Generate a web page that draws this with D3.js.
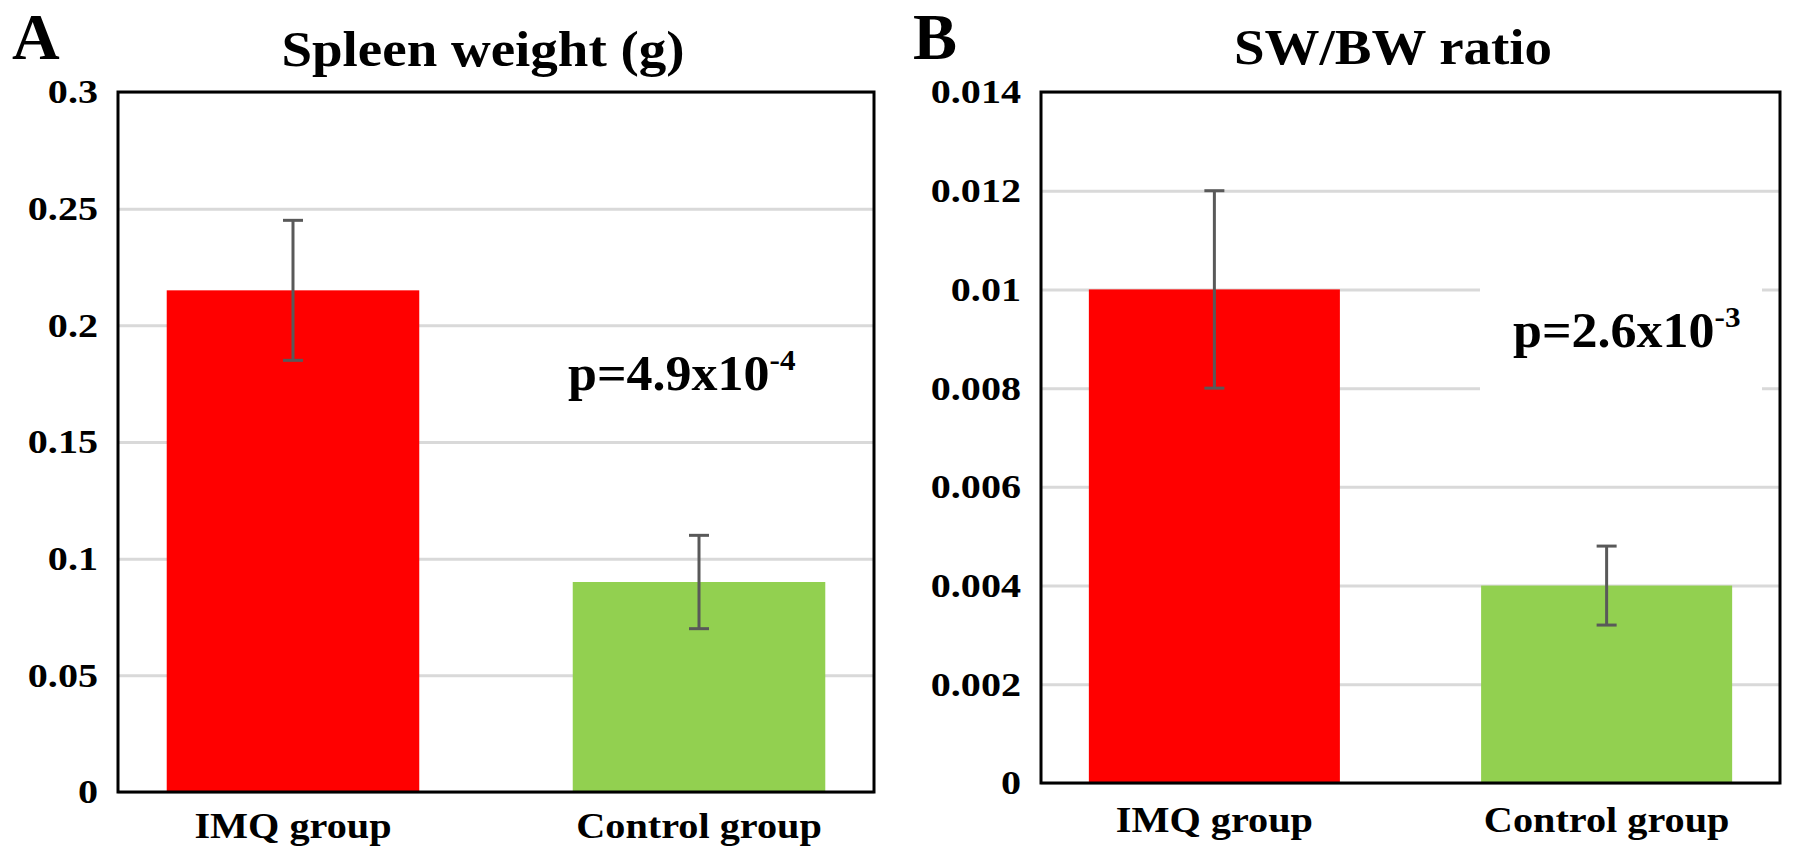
<!DOCTYPE html>
<html>
<head>
<meta charset="utf-8">
<script src="https://cdn.jsdelivr.net/npm/d3@7"></script>
<style>
  body { margin: 0; background: #fff; }
  text { font-family: "Liberation Serif", "Times New Roman", serif; font-weight: bold; fill: #000; }
</style>
</head>
<body>
<div id="chart"></div>
<script>
// data
var groups = ["IMQ group", "Control group"];
var barColors = ["#ff0000", "#92d050"];

var spleenMean = [0.215, 0.09];
var spleenErr = [0.03, 0.02];
var spleenTicks = [0, 0.05, 0.1, 0.15, 0.2, 0.25, 0.3];

var ratioMean = [0.010, 0.004];
var ratioErr = [0.002, 0.0008];
var ratioTicks = [0, 0.002, 0.004, 0.006, 0.008, 0.01, 0.012, 0.014];

var svg = d3.select("#chart")
  .append("svg")
    .attr("width", 1795)
    .attr("height", 862);

// stretched bold serif text like the picture
function label(g, x, y, txt, size, sx, anchor) {
  return g.append("text")
    .attr("transform", "translate(" + x + "," + y + ") scale(" + sx + ",1)")
    .attr("text-anchor", anchor || "middle")
    .style("font-size", size + "px")
    .text(txt);
}

function panel(opt) {
  var g = svg.append("g");
  var width = opt.right - opt.left,
      height = opt.bottom - opt.top;

  var x = d3.scaleBand()
    .domain(groups)
    .range([opt.left, opt.right])
    .paddingInner(opt.inner)
    .paddingOuter(opt.outer);

  var y = d3.scaleLinear()
    .domain([0, opt.ticks[opt.ticks.length - 1]])
    .range([opt.bottom, opt.top]);

  // gridlines
  g.append("g")
    .attr("transform", "translate(" + opt.left + ",0)")
    .call(d3.axisLeft(y).tickValues(opt.ticks).tickSize(-width).tickFormat(""))
    .call(function(a) {
      a.select(".domain").remove();
      a.selectAll("line").attr("stroke", "#d9d9d9").attr("stroke-width", 3);
    });

  // white box behind p value (panel B)
  if (opt.box) {
    g.append("rect")
      .attr("x", opt.box[0]).attr("y", opt.box[1])
      .attr("width", opt.box[2]).attr("height", opt.box[3])
      .attr("fill", "#fff");
  }

  // bars
  g.selectAll(".bar")
    .data(opt.mean)
    .enter()
    .append("rect")
      .attr("x", function(d, i) { return x(groups[i]); })
      .attr("y", function(d) { return y(d); })
      .attr("width", x.bandwidth())
      .attr("height", function(d) { return opt.bottom - y(d); })
      .attr("fill", function(d, i) { return barColors[i]; });

  // error bars
  var eb = g.selectAll(".err")
    .data(opt.mean)
    .enter()
    .append("g")
      .attr("stroke", "#595959")
      .attr("stroke-width", 3);
  eb.append("line")
    .attr("x1", function(d, i) { return x(groups[i]) + x.bandwidth() / 2; })
    .attr("x2", function(d, i) { return x(groups[i]) + x.bandwidth() / 2; })
    .attr("y1", function(d, i) { return y(d - opt.err[i]); })
    .attr("y2", function(d, i) { return y(d + opt.err[i]); });
  [-1, 1].forEach(function(s) {
    eb.append("line")
      .attr("x1", function(d, i) { return x(groups[i]) + x.bandwidth() / 2 - 10; })
      .attr("x2", function(d, i) { return x(groups[i]) + x.bandwidth() / 2 + 10; })
      .attr("y1", function(d, i) { return y(d + s * opt.err[i]); })
      .attr("y2", function(d, i) { return y(d + s * opt.err[i]); });
  });

  // frame
  g.append("rect")
    .attr("x", opt.left).attr("y", opt.top)
    .attr("width", width).attr("height", height)
    .attr("fill", "none")
    .attr("stroke", "#000")
    .attr("stroke-width", 3);

  // y tick labels
  var sx = 1.18;
  g.append("g")
    .attr("transform", "translate(" + opt.left + ",0)")
    .call(d3.axisLeft(y).tickValues(opt.ticks).tickSize(0).tickFormat(function(d) { return String(+d.toFixed(4)); }))
    .call(function(a) {
      a.select(".domain").remove();
      a.selectAll("text")
        .attr("x", -20 / sx)
        .attr("transform", "scale(" + sx + ",1)")
        .style("font-size", "34px")
        .style("font-family", "Liberation Serif, serif")
        .style("font-weight", "bold")
        .attr("fill", "#000");
    });

  // x labels
  groups.forEach(function(c) {
    label(g, x(c) + x.bandwidth() / 2, opt.xlabY, c, 35, 1.15);
  });

  // title, panel letter
  label(g, opt.titleX, opt.titleY, opt.title, 50, 1.1);
  label(g, opt.letterX, opt.letterY, opt.letter, 66, 1.0, "start");

  // p value with superscript
  var p = g.append("text")
    .attr("transform", "translate(" + opt.pX + "," + opt.pY + ") scale(1.04,1)")
    .style("font-size", "50px");
  p.append("tspan").text(opt.p[0]);
  p.append("tspan").attr("dy", -20).style("font-size", "30px").text(opt.p[1]);
}

panel({
  left: 118, right: 874, top: 92, bottom: 792,
  inner: 0.378, outer: 0.12,
  mean: spleenMean, err: spleenErr, ticks: spleenTicks,
  xlabY: 838,
  title: "Spleen weight (g)", titleX: 483, titleY: 66,
  letter: "A", letterX: 12, letterY: 59,
  p: ["p=4.9x10", "-4"], pX: 568, pY: 390
});

panel({
  left: 1041, right: 1780, top: 92, bottom: 783,
  inner: 0.36, outer: 0.122,
  mean: ratioMean, err: ratioErr, ticks: ratioTicks,
  xlabY: 832,
  title: "SW/BW ratio", titleX: 1393, titleY: 64,
  letter: "B", letterX: 913, letterY: 59,
  p: ["p=2.6x10", "-3"], pX: 1513, pY: 347,
  box: [1480, 240, 282, 200]
});
</script>
</body>
</html>
